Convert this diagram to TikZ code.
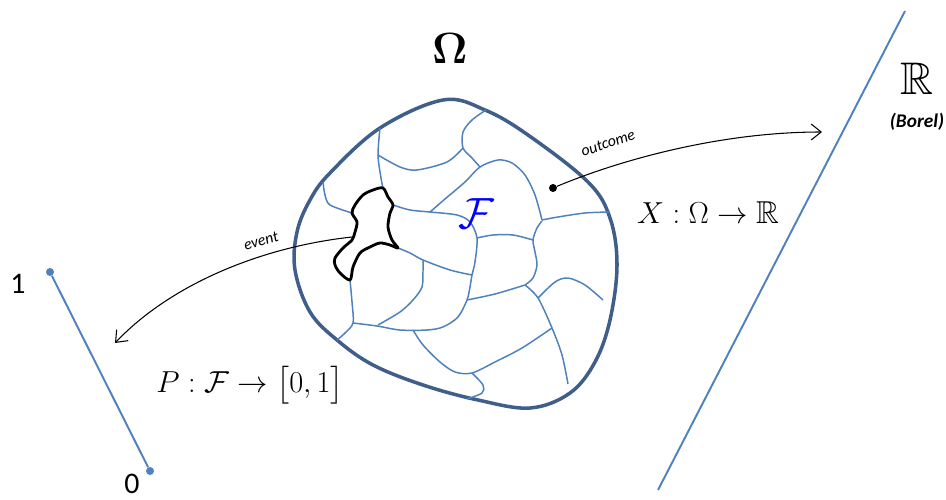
\documentclass[tikz,border=0pt]{standalone}
\usepackage{amsmath,amssymb}
\usepackage[no-math]{fontspec}
\newfontfamily\calibri{Carlito}
\usetikzlibrary{arrows.meta, positioning}
\definecolor{omegablue}{RGB}{63,95,138}
\definecolor{cellblue}{RGB}{79,129,189}

\begin{document}
\begin{tikzpicture}[
x=0.02cm, y=-0.02cm,
omega/.style={draw=omegablue, line width=2pt},
cell/.style={draw=cellblue, line width=0.85pt},
eventset/.style={draw=black, line width=1.6pt, line join=round},
arrow/.style={-{Straight Barb[length=2mm,width=3.2mm]}, line width=0.6pt},
dot/.style={circle, fill, inner sep=0pt, minimum size=1.6mm},
lbl/.style={font=\calibri\itshape\fontsize{9}{9}\selectfont, inner sep=1pt},
bluelink/.style={draw=cellblue, line width=1.1pt}
]
\useasboundingbox (0,0) rectangle (946,500);

% sample space and its cells
\draw[omega] plot[smooth cycle, tension=0.6] coordinates {(443,100) (485,110) (528,135) (588,182) (610,218) (617,265) (610,320) (595,362) (570,393) (530,408) (478,400) (423,385) (373,365) (337,340) (310,312) (295,270) (297,232) (310,200) (330,173) (380,128)};

\draw[cell] plot[smooth] coordinates {(380,128) (378,155) (381,178) (383,188)};
\draw[cell] plot[smooth] coordinates {(378,155) (400,167) (417,170) (447,162) (463,148)};
\draw[cell] plot[smooth] coordinates {(486,110) (472,120) (463,132) (463,148) (472,158) (480,167)};
\draw[cell] plot[smooth] coordinates {(430,212) (445,199) (465,182) (480,167) (498,160) (512,163) (525,175) (535,195) (542,220)};
\draw[cell] plot[smooth] coordinates {(393,205) (410,210) (430,212) (457,215) (470,222) (477,238) (475,262) (472,275) (470,287) (467,300) (458,317) (443,327) (427,330) (400,330) (377,326) (353,323)};
\draw[cell] plot[smooth] coordinates {(542,220) (558,217) (585,213) (610,212)};
\draw[cell] plot[smooth] coordinates {(542,221) (537,228) (533,240) (535,252) (537,265) (533,278) (525,285)};
\draw[cell] plot[smooth] coordinates {(477,238) (493,235) (513,235) (533,240)};
\draw[cell] plot[smooth] coordinates {(467,300) (495,294) (525,285)};
\draw[cell] plot[smooth] coordinates {(525,285) (538,298) (552,328) (562,355) (568,384)};
\draw[cell] plot[smooth] coordinates {(538,298) (555,282) (568,278) (585,285) (603,300)};
\draw[cell] plot[smooth] coordinates {(552,328) (522,348) (495,362) (472,373) (455,372) (440,362) (423,345) (413,330)};
\draw[cell] plot[smooth] coordinates {(472,373) (483,385) (482,393) (467,399)};
\draw[cell] plot[smooth] coordinates {(398,248) (410,253) (423,260) (450,270) (472,275)};
\draw[cell] plot[smooth] coordinates {(423,260) (423,270) (422,287) (413,300) (400,312) (378,325)};
\draw[cell] plot[smooth] coordinates {(350,280) (352,302) (353,323) (345,333) (337,340)};
\draw[cell] plot[smooth] coordinates {(323,182) (325,195) (330,205) (352,213)};

\draw[eventset] plot[smooth cycle, tension=0.5] coordinates {(352,213) (355,205) (363,195) (373,190) (383,188) (388,197) (393,205) (390,213) (388,227) (392,240) (398,248) (390,245) (380,243) (370,247) (360,253) (353,267) (350,280) (340,273) (335,265) (335,258) (343,248) (352,240) (355,232) (357,222)};

\node (omegalbl) at (450,49) {\fontsize{26}{26}\selectfont$\boldsymbol{\Omega}$};
\node (sigma) at (476,214) {\fontsize{26}{26}\selectfont$\color{blue}\mathcal{F}$};

% random variable
\node (pt) [dot] at (553,188) {};
\coordinate (rtarget) at (822,132);
\draw[arrow] (pt) .. controls (620,160) and (720,132) .. (rtarget);
\node (outlbl) [lbl, rotate=19] at (608,143) {outcome};
\node (xmap) at (708,213) {\fontsize{18}{18}\selectfont$X:\Omega\rightarrow\mathbb{R}$};

\coordinate (rtop) at (905,11);
\coordinate (rbot) at (658,490);
\draw[bluelink] (rtop) -- (rbot);
\node (reals) at (917,79) {\fontsize{26}{26}\selectfont$\mathbb{R}$};
\node (borel) [below=0.12cm of reals, font=\calibri\bfseries\itshape\fontsize{11}{11}\selectfont] {(Borel)};

% probability measure
\coordinate (ev) at (352,237);
\coordinate (evtarget) at (115,343);
\draw[arrow] (ev) .. controls (260,247) and (170,285) .. (evtarget);
\node (evlbl) [lbl, rotate=17] at (261,241) {event};
\node (pmap) at (250,385) {\fontsize{18}{18}\selectfont$P:\mathcal{F}\rightarrow\big[0,1\big]$};

\node (one) [dot, cellblue] at (50,272) {};
\node (zero) [dot, cellblue] at (150,471) {};
\draw[bluelink] (one) -- (zero);
\node (onelbl) at (18,284) {\calibri\fontsize{17}{17}\selectfont 1};
\node (zerolbl) at (132,484) {\calibri\fontsize{17}{17}\selectfont 0};

\end{tikzpicture}
\end{document}
